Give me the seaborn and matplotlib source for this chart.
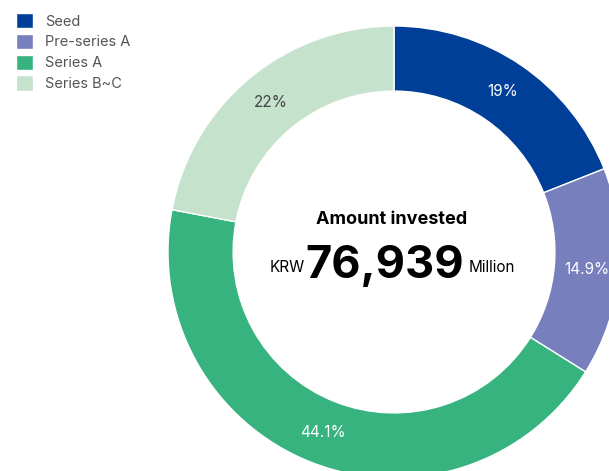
import matplotlib
matplotlib.use("Agg")
import matplotlib.pyplot as plt
import seaborn as sns

# data
stages = ["Seed", "Pre-series A", "Series A", "Series B~C"]
shares = [19, 14.9, 44.1, 22]
colors = ["#003f98", "#7780bc", "#36b37e", "#c4e2cc"]
label_colors = ["white", "white", "white", "#444444"]
total_amount = "76,939"

sns.set_theme(style="white")
plt.rcParams["font.family"] = ["Inter", "DejaVu Sans"]

fig = plt.figure(figsize=(6.09, 4.71), dpi=100)
ax = fig.add_axes([0, 0, 1, 1])

# pixel geometry of the ring: centre (394, 252), outer radius 226 px
cx, cy, r = 394, 252, 226
W, H = 609, 471

wedges, texts, autotexts = ax.pie(
    shares,
    colors=colors,
    startangle=90,
    counterclock=False,
    radius=1,
    wedgeprops=dict(width=0.288, edgecolor="white", linewidth=1),
    autopct=lambda p: "{0:g}%".format(round(p, 1)),
    pctdistance=0.857,
    textprops=dict(fontsize=11),
)
for t, c in zip(autotexts, label_colors):
    t.set_color(c)

ax.set_xlim(-cx / r, (W - cx) / r)
ax.set_ylim(-(H - cy) / r, cy / r)
ax.set_aspect("auto")
ax.axis("off")


def px(x, y):
    return (x - cx) / r, (cy - y) / r


# centre text
ax.text(*px(392, 220), "Amount invested", ha="center", va="center",
        fontsize=13, fontweight="bold", color="black")
ax.text(*px(385, 266), total_amount, ha="center", va="center",
        fontsize=32.5, fontweight="bold", color="black")
ax.text(*px(305, 268), "KRW", ha="right", va="center", fontsize=11, color="black")
ax.text(*px(469, 268), "Million", ha="left", va="center", fontsize=11, color="black")

# legend in the top left corner
leg = ax.legend(wedges, stages, loc="upper left", bbox_to_anchor=(0.016, 0.985),
                frameon=False, fontsize=10.5, handlelength=1.2, handleheight=1.25,
                handletextpad=0.8, labelspacing=0.36, borderaxespad=0)
for txt in leg.get_texts():
    txt.set_color("#555555")

fig.savefig("out.png", dpi=100)
